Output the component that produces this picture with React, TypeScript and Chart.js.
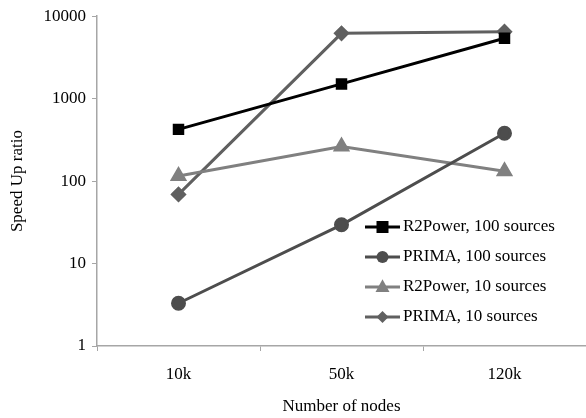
import React, { useEffect, useRef } from "react";
import { Chart, registerables } from "chart.js";

Chart.register(...registerables);

const categories = ["10k", "50k", "120k"];
const yTicks = [1, 10, 100, 1000, 10000];
const r2power100 = [424, 1510, 5400];
const prima100 = [3.3, 29.5, 380];
const r2power10 = [115, 263, 132];
const prima10 = [69, 6200, 6500];

const seriesNames = [
  "R2Power, 100 sources",
  "PRIMA, 100 sources",
  "R2Power, 10 sources",
  "PRIMA, 10 sources",
];

const FONT = "'Liberation Serif', 'Times New Roman', serif";
const FS = 17;

const legendPlugin = {
  id: "insideLegend",
  afterDraw(chart: any) {
    const ctx = chart.ctx;
    const startX = 365;
    const lineLen = 35;
    const ys = [227, 257, 287, 317];
    chart.data.datasets.forEach((ds: any, i: number) => {
      const y = ys[i];
      ctx.save();
      ctx.strokeStyle = ds.borderColor;
      ctx.lineWidth = 3;
      ctx.beginPath();
      ctx.moveTo(startX, y);
      ctx.lineTo(startX + lineLen, y);
      ctx.stroke();
      ctx.fillStyle = ds.pointBackgroundColor;
      const cx = startX + lineLen / 2;
      const style = ds.pointStyle;
      const r = ds.pointRadius;
      ctx.beginPath();
      if (style === "rect") {
        ctx.rect(cx - r, y - r, 2 * r, 2 * r);
      } else if (style === "circle") {
        ctx.arc(cx, y, r, 0, Math.PI * 2);
      } else if (style === "triangle") {
        ctx.moveTo(cx, y - r * 1.1);
        ctx.lineTo(cx + r, y + r * 0.7);
        ctx.lineTo(cx - r, y + r * 0.7);
        ctx.closePath();
      } else {
        ctx.moveTo(cx, y - r);
        ctx.lineTo(cx + r, y);
        ctx.lineTo(cx, y + r);
        ctx.lineTo(cx - r, y);
        ctx.closePath();
      }
      ctx.fill();
      ctx.fillStyle = "#000";
      ctx.font = FS + "px " + FONT;
      ctx.textBaseline = "middle";
      ctx.textAlign = "left";
      ctx.fillText(ds.label, startX + lineLen + 3, y);
      ctx.restore();
    });
  },
};

export default function App() {
  const ref = useRef<HTMLCanvasElement>(null);
  useEffect(() => {
    if (!ref.current) return;
    const chart = new Chart(ref.current, {
      type: "line",
      data: {
        labels: categories,
        datasets: [
          {
            label: seriesNames[0],
            data: r2power100,
            borderColor: "#000000",
            pointBackgroundColor: "#000000",
            pointBorderColor: "#000000",
            pointStyle: "rect",
            pointRadius: 6,
            borderWidth: 3,
          },
          {
            label: seriesNames[1],
            data: prima100,
            borderColor: "#4d4d4d",
            pointBackgroundColor: "#4d4d4d",
            pointBorderColor: "#4d4d4d",
            pointStyle: "circle",
            pointRadius: 6,
            borderWidth: 3,
          },
          {
            label: seriesNames[2],
            data: r2power10,
            borderColor: "#808080",
            pointBackgroundColor: "#808080",
            pointBorderColor: "#808080",
            pointStyle: "triangle",
            pointRadius: 7,
            borderWidth: 3,
          },
          {
            label: seriesNames[3],
            data: prima10,
            borderColor: "#606060",
            pointBackgroundColor: "#606060",
            pointBorderColor: "#606060",
            pointStyle: "rectRot",
            pointRadius: 6,
            borderWidth: 3,
          },
        ],
      } as any,
      options: {
        animation: false,
        responsive: false,
        layout: { autoPadding: false, padding: { left: 0, right: 0, top: 14, bottom: 0 } },
        plugins: {
          legend: { display: false },
          tooltip: { enabled: false },
        },
        scales: {
          x: {
            offset: true,
            grid: {
              offset: true,
              drawOnChartArea: false,
              drawTicks: true,
              tickLength: 5,
              color: "#a6a6a6",
            },
            border: { color: "#a6a6a6", width: 1.5 },
            ticks: {
              color: "#000",
              font: { family: FONT, size: FS },
              padding: 13,
            },
            title: {
              display: true,
              text: "Number of nodes",
              color: "#000",
              font: { family: FONT, size: FS },
              padding: { top: 4, bottom: 1 },
            },
            afterFit: (s: any) => {
              s.height = 72;
            },
          },
          y: {
            type: "logarithmic",
            min: 1,
            max: 10000,
            grid: {
              drawOnChartArea: false,
              drawTicks: true,
              tickLength: 5,
              color: "#a6a6a6",
            },
            border: { color: "#a6a6a6", width: 1.5 },
            afterBuildTicks: (s: any) => {
              s.ticks = yTicks.map((v) => ({ value: v }));
            },
            ticks: {
              color: "#000",
              font: { family: FONT, size: FS },
              padding: 6,
              callback: (v: any) => String(v),
            },
            title: {
              display: true,
              text: "Speed Up ratio",
              color: "#000",
              font: { family: FONT, size: FS },
              padding: { top: 7, bottom: 4 },
            },
            afterFit: (s: any) => {
              s.width = 97;
            },
          },
        },
      } as any,
      plugins: [legendPlugin],
    });
    return () => chart.destroy();
  }, []);
  return (
    <div style={{ position: "fixed", left: 0, top: 0, width: 586, height: 418, background: "#fff" }}>
      <canvas ref={ref} width={586} height={418} style={{ width: 586, height: 418 }} />
    </div>
  );
}
